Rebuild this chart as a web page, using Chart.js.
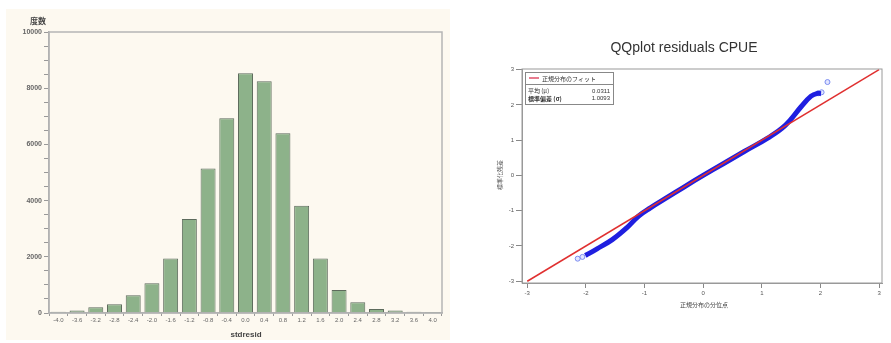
<!DOCTYPE html>
<html>
<head>
<meta charset="utf-8">
<script src="https://cdn.jsdelivr.net/npm/chart.js@4"></script>
<style>
  body { margin: 0; background: #fff; }
  #left { position: absolute; left: 6px; top: 9px; width: 444px; height: 331px; background: #fdf9f0; }
  #right { position: absolute; left: 490px; top: 0; width: 401px; height: 343px; }
</style>
</head>
<body>
<div id="left"><canvas id="hist" width="444" height="331"></canvas></div>
<div id="right"><canvas id="qq" width="401" height="343"></canvas></div>
<script>
// histogram of stdresid
const binLabels = ['-4.0', '-3.6', '-3.2', '-2.8', '-2.4', '-2.0', '-1.6', '-1.2', '-0.8', '-0.4',
  '0.0', '0.4', '0.8', '1.2', '1.6', '2.0', '2.4', '2.8', '3.2', '3.6', '4.0'];
const binCounts = [45, 90, 205, 315, 630, 1055, 1940, 3345, 5140, 6935,
  8535, 8245, 6400, 3820, 1940, 815, 380, 145, 85, 45, 35];

// QQ plot
const qqTicks = [-3, -2, -1, 0, 1, 2, 3];
const fitX = [-3, 3];
const fitY = [-3, 3];
const bandX = [-2.01, -1.81, -1.55, -1.3, -1.1, -0.9, -0.6, -0.3, 0, 0.35, 0.7, 1.1, 1.4, 1.67, 1.84, 1.95, 2.01];
const bandY = [-2.27, -2.08, -1.82, -1.48, -1.15, -0.92, -0.61, -0.3, 0.0, 0.34, 0.68, 1.06, 1.42, 1.95, 2.25, 2.33, 2.32];
const tailX = [-2.14, -2.06, 1.96, 2.02, 2.12];
const tailY = [-2.36, -2.31, 2.33, 2.36, 2.65];
const fitMean = '0.0311';
const fitSd = '1.0093';

const tickFont = {family: 'Liberation Sans', size: 7, weight: 'bold'};

// frame round the plot area + free text
const frame = {
  id: 'frame',
  afterDraw(chart, args, opts) {
    const {ctx, chartArea: a} = chart;
    ctx.save();
    ctx.strokeStyle = opts.color;
    ctx.lineWidth = opts.width;
    ctx.strokeRect(a.left, a.top, a.right - a.left, a.bottom - a.top);
    for (const t of opts.texts || []) {
      ctx.save();
      ctx.font = t.font;
      ctx.fillStyle = t.color || '#333';
      ctx.textAlign = t.align || 'center';
      ctx.textBaseline = 'middle';
      ctx.translate(t.x, t.y);
      if (t.rot) ctx.rotate(t.rot);
      ctx.fillText(t.text, 0, 0);
      ctx.restore();
    }
    if (opts.legend) opts.legend(ctx, a);
    ctx.restore();
  }
};

new Chart(document.getElementById('hist'), {
  type: 'bar',
  data: {
    labels: binLabels,
    datasets: [{
      data: binCounts,
      backgroundColor: '#8db28a',
      borderColor: '#5d6b5c',
      borderWidth: 1,
      barPercentage: 0.8,
      categoryPercentage: 1
    }]
  },
  options: {
    responsive: false,
    animation: false,
    layout: {padding: {top: 23, right: 8, bottom: 13, left: 0}},
    scales: {
      x: {
        grid: {display: true, drawOnChartArea: false, tickLength: 3, color: '#999'},
        border: {color: '#aaa', width: 1.5},
        ticks: {font: {family: 'Liberation Sans', size: 6}, color: '#666', maxRotation: 0, autoSkip: false, padding: 1},
        afterFit: s => { s.height = 14; }
      },
      y: {
        min: 0, max: 10000,
        grid: {display: true, drawOnChartArea: false, tickLength: 5, color: '#999'},
        border: {color: '#aaa', width: 1.5},
        ticks: {
          stepSize: 500, autoSkip: false, font: tickFont, color: '#666', padding: 2,
          callback: v => v % 2000 === 0 ? v : ''
        },
        afterFit: s => { s.width = 43; }
      }
    },
    plugins: {
      legend: {display: false},
      tooltip: {enabled: false},
      frame: {
        color: '#b5b5b5', width: 1.5,
        texts: [
          {text: '度数', x: 32, y: 12, font: 'bold 8px "Noto Sans CJK JP"', color: '#444'},
          {text: 'stdresid', x: 240, y: 326, font: 'bold 8px "Liberation Sans"', color: '#444'}
        ]
      }
    }
  },
  plugins: [frame]
});

function drawQQLegend(ctx, a) {
  const x0 = a.left + 3, y0 = a.top + 3, w = 88, h = 32;
  ctx.fillStyle = '#fff';
  ctx.fillRect(x0, y0, w, h);
  ctx.strokeStyle = '#888';
  ctx.lineWidth = 1;
  ctx.strokeRect(x0 + 0.5, y0 + 0.5, w, h);
  ctx.beginPath();
  ctx.moveTo(x0, y0 + 12.5);
  ctx.lineTo(x0 + w, y0 + 12.5);
  ctx.stroke();
  ctx.strokeStyle = '#e0506a';
  ctx.lineWidth = 1.5;
  ctx.beginPath();
  ctx.moveTo(x0 + 4, y0 + 6);
  ctx.lineTo(x0 + 14, y0 + 6);
  ctx.stroke();
  ctx.fillStyle = '#333';
  ctx.textBaseline = 'middle';
  ctx.font = '6px "Noto Sans CJK JP"';
  ctx.textAlign = 'left';
  ctx.fillText('正規分布のフィット', x0 + 17, y0 + 6.5);
  ctx.fillText('平均 (μ)', x0 + 3, y0 + 19);
  ctx.font = 'bold 6px "Noto Sans CJK JP"';
  ctx.fillText('標準偏差 (σ)', x0 + 3, y0 + 26.5);
  ctx.font = '6px "Liberation Sans"';
  ctx.textAlign = 'right';
  ctx.fillText(fitMean, x0 + w - 3, y0 + 19);
  ctx.fillText(fitSd, x0 + w - 3, y0 + 26.5);
}

const pts = (xs, ys) => xs.map((x, i) => ({x, y: ys[i]}));

new Chart(document.getElementById('qq'), {
  type: 'scatter',
  data: {
    datasets: [
      {
        data: pts(bandX, bandY), showLine: true, borderColor: '#1f1fe0', borderWidth: 5,
        pointRadius: 0, tension: 0.4, order: 2
      },
      {
        data: pts(tailX, tailY), pointRadius: 2.5, borderWidth: 1,
        borderColor: '#7b8cf0', backgroundColor: 'rgba(170,180,255,0.35)', order: 3
      },
      {
        data: pts(fitX, fitY), showLine: true, borderColor: '#e03030', borderWidth: 1.5,
        pointRadius: 0, order: 1
      }
    ]
  },
  options: {
    responsive: false,
    animation: false,
    layout: {padding: {top: 69, right: 9, bottom: 40, left: 0}},
    scales: {
      x: {
        type: 'linear', min: -3.09, max: 3.05,
        afterBuildTicks: s => { s.ticks = qqTicks.map(v => ({value: v})); },
        grid: {display: true, drawOnChartArea: false, tickLength: 5, color: '#888'},
        border: {color: '#999', width: 1},
        ticks: {font: {family: 'Liberation Sans', size: 6}, color: '#555', padding: 2},
        afterFit: s => { s.height = 20; }
      },
      y: {
        type: 'linear', min: -3.05, max: 3.02,
        afterBuildTicks: s => { s.ticks = qqTicks.map(v => ({value: v})); },
        grid: {display: true, drawOnChartArea: false, tickLength: 6, color: '#888'},
        border: {color: '#999', width: 1},
        ticks: {font: {family: 'Liberation Sans', size: 6}, color: '#555', padding: 2},
        afterFit: s => { s.width = 32; }
      }
    },
    plugins: {
      legend: {display: false},
      tooltip: {enabled: false},
      frame: {
        color: '#9a9a9a', width: 1,
        texts: [
          {text: 'QQplot residuals CPUE', x: 194, y: 48, font: '14px "Liberation Sans"', color: '#333'},
          {text: '正規分布の分位点', x: 214, y: 305, font: '6px "Noto Sans CJK JP"', color: '#444'},
          {text: '標準化残差', x: 10, y: 175, rot: -Math.PI / 2, font: '6px "Noto Sans CJK JP"', color: '#555'}
        ],
        legend: drawQQLegend
      }
    }
  },
  plugins: [frame]
});
</script>
</body>
</html>
